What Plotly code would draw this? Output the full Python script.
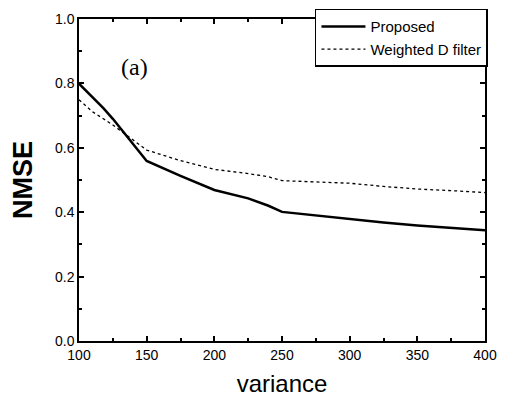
import plotly.graph_objects as go

variance_prop = [100, 118, 125, 150, 175, 200, 225, 240, 250, 275, 300, 325, 350, 375, 400]
nmse_prop = [0.799, 0.723, 0.690, 0.559, 0.513, 0.469, 0.443, 0.420, 0.401, 0.390, 0.377, 0.368, 0.359, 0.352, 0.344]

variance_wd = [100, 110, 125, 140, 150, 175, 200, 225, 240, 250, 275, 300, 325, 350, 375, 400]
nmse_wd = [0.749, 0.712, 0.671, 0.624, 0.593, 0.560, 0.533, 0.520, 0.510, 0.498, 0.494, 0.490, 0.480, 0.472, 0.467, 0.461]

x_ticks = [100, 150, 200, 250, 300, 350, 400]
y_ticks = [0.0, 0.2, 0.4, 0.6, 0.8, 1.0]

FONT = "Liberation Sans, Arial, sans-serif"

fig = go.Figure()
fig.add_trace(go.Scatter(x=variance_prop, y=nmse_prop, mode="lines", name="Proposed",
                         line=dict(color="black", width=2.5)))
fig.add_trace(go.Scatter(x=variance_wd, y=nmse_wd, mode="lines", name="Weighted D filter",
                         line=dict(color="black", width=1.3, dash="dot")))

axis_common = dict(showline=True, linecolor="black", linewidth=1.5, mirror="ticks",
                   ticks="inside", ticklen=5, tickwidth=1.5, tickcolor="black",
                   showgrid=False, zeroline=False,
                   tickfont=dict(family=FONT, size=14, color="black"))

fig.update_xaxes(range=[100, 400], tickvals=x_ticks, ticktext=[str(v) for v in x_ticks],
                 minor=dict(ticks="inside", dtick=25, ticklen=3, tickcolor="black"),
                 title=dict(text="variance", font=dict(family=FONT, size=24, color="black"), standoff=14),
                 **axis_common)
fig.update_yaxes(range=[0, 1.0], tickvals=y_ticks, ticktext=[f"{v:.1f}" for v in y_ticks],
                 minor=dict(ticks="inside", dtick=0.1, ticklen=3, tickcolor="black"),
                 title=dict(text="<b>NMSE</b>", font=dict(family=FONT, size=27, color="black"), standoff=18),
                 **axis_common)

fig.add_annotation(text="(a)", xref="paper", yref="paper", x=0.098, y=0.897,
                   showarrow=False, font=dict(family="Liberation Serif, Times New Roman, serif", size=24, color="black"))

# page body adds an 8px offset; figure is sized to fill the remaining window
fig.update_layout(
    width=501, height=396,
    margin=dict(l=71, r=24, t=11, b=63, autoexpand=False),
    paper_bgcolor="white", plot_bgcolor="white",
    legend=dict(xref="container", yref="container", x=0.958, y=0.998, xanchor="right", yanchor="top",
                bgcolor="white", bordercolor="black", borderwidth=1.5,
                font=dict(family=FONT, size=15, color="black"),
                tracegroupgap=4, itemwidth=44),
    showlegend=True,
)

fig.write_html("out.html")
